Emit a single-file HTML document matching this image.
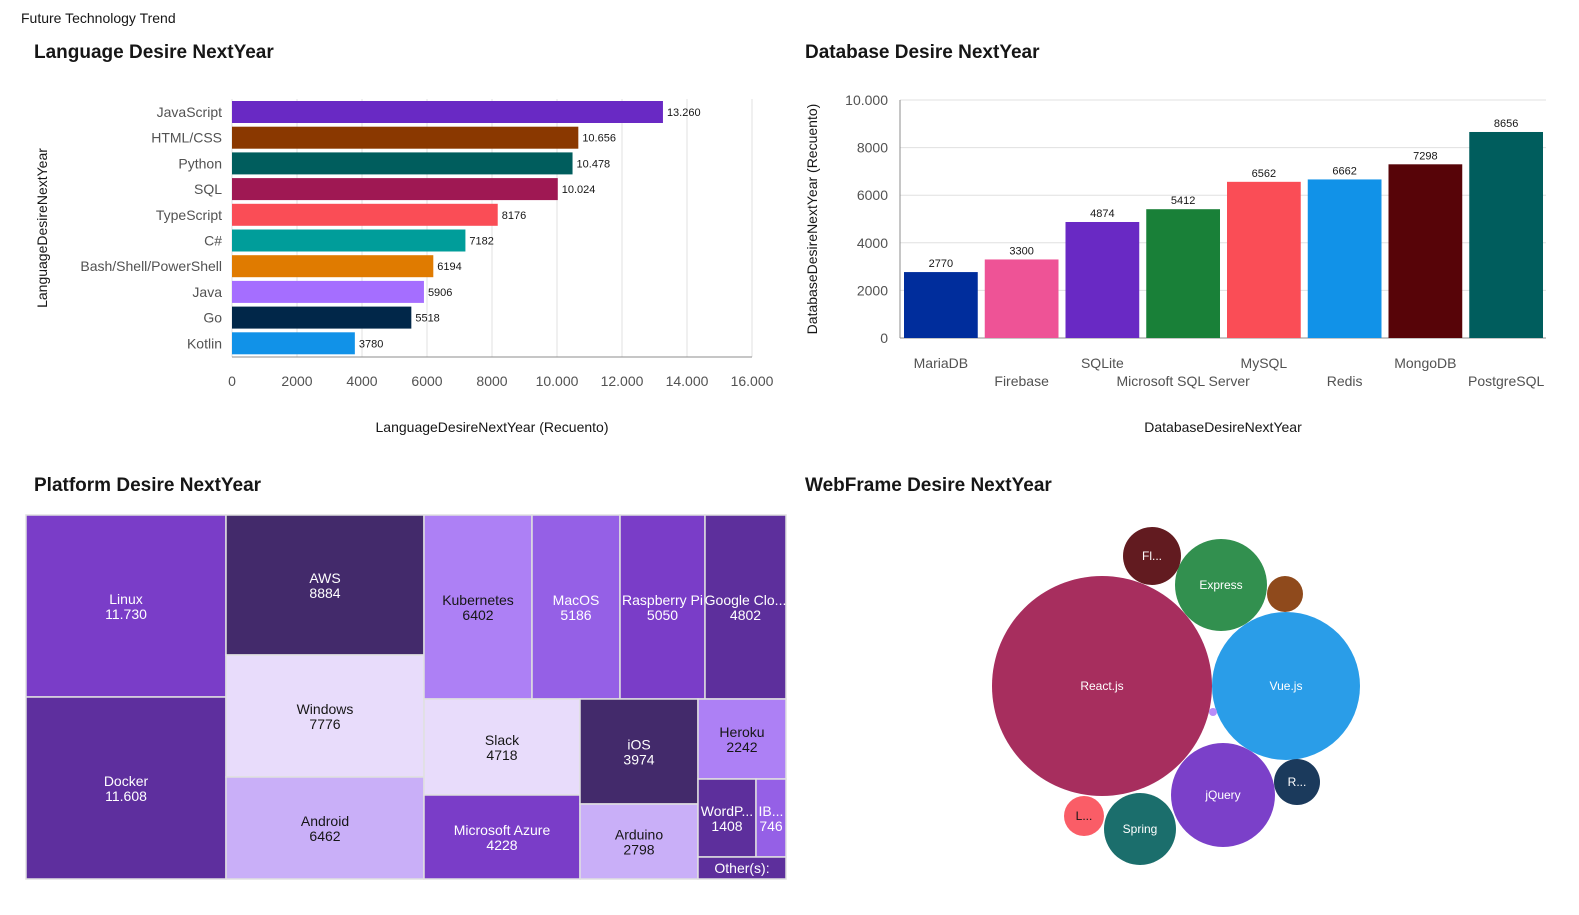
<!DOCTYPE html>
<html><head><meta charset="utf-8"><style>
body{margin:0;width:1579px;height:915px;background:#fff;font-family:"Liberation Sans",sans-serif;overflow:hidden;position:relative}
.t{position:absolute;font-weight:bold;font-size:19px;color:#161616}
svg{position:absolute;left:0;top:0}
</style></head><body>
<div style="position:absolute;left:21px;top:10px;font-size:14px;color:#161616">Future Technology Trend</div>
<div class="t" style="left:34px;top:42px">Language Desire NextYear</div>
<div class="t" style="left:805px;top:42px">Database Desire NextYear</div>
<div class="t" style="left:34px;top:475px">Platform Desire NextYear</div>
<div class="t" style="left:805px;top:475px">WebFrame Desire NextYear</div>
<svg id="s" width="1579" height="915" font-family="Liberation Sans, sans-serif"></svg>
<script>
const langCats=["JavaScript","HTML/CSS","Python","SQL","TypeScript","C#","Bash/Shell/PowerShell","Java","Go","Kotlin"];
const langVals=[13260,10656,10478,10024,8176,7182,6194,5906,5518,3780];
const langLabels=["13.260","10.656","10.478","10.024","8176","7182","6194","5906","5518","3780"];
const langTicks=["0","2000","4000","6000","8000","10.000","12.000","14.000","16.000"];
const dbCats=["MariaDB","Firebase","SQLite","Microsoft SQL Server","MySQL","Redis","MongoDB","PostgreSQL"];
const dbVals=[2770,3300,4874,5412,6562,6662,7298,8656];
const dbTicks=["0","2000","4000","6000","8000","10.000"];
const tmNames=["Linux","Docker","AWS","Windows","Android","Kubernetes","MacOS","Raspberry Pi","Google Clo...","Slack","Microsoft Azure","iOS","Arduino","Heroku","WordP...","IB...","Other(s):"];
const tmVals=["11.730","11.608","8884","7776","6462","6402","5186","5050","4802","4718","4228","3974","2798","2242","1408","746",""];
const bubNames=["React.js","Vue.js","Express","Fl...","","jQuery","R...","Spring","L...",""];
const bubVals=[12100,5476,2116,841,324,2704,529,1296,400,16];
const S=document.getElementById('s');const NS="http://www.w3.org/2000/svg";
function el(t,a,txt){const e=document.createElementNS(NS,t);for(const k in a)e.setAttribute(k,a[k]);if(txt!==undefined)e.textContent=txt;S.appendChild(e);return e;}
// language chart
const lx=v=>232+v*(520/16000);const ly=i=>112+i*25.7;
const langCol=["#6929c4","#8a3800","#005d5d","#9f1853","#fa4d56","#009d9a","#e07b00","#a56eff","#012749","#1192e8"];
langTicks.forEach((t,i)=>{const x=lx(i*2000);
let g=el('line',{x1:x,x2:x,y1:99,y2:357,stroke:"#e0e0e0"});
let tl=el('text',{x:x,y:386,'text-anchor':'middle','font-size':14,fill:'#525252'},t);});
let ax=el('line',{x1:232,x2:752,y1:357,y2:357,stroke:"#8d8d8d"});
langCats.forEach((c,i)=>{const y=ly(i);
let b=el('rect',{x:232,y:y-11,width:lx(langVals[i])-232,height:22,fill:langCol[i]});
let l=el('text',{x:222,y:y+5,'text-anchor':'end','font-size':14,fill:'#525252'},c);
let v=el('text',{x:lx(langVals[i])+4,y:y+4,'font-size':11,fill:'#161616'},langLabels[i]);});
let xt=el('text',{x:492,y:432,'text-anchor':'middle','font-size':14,fill:'#161616'},"LanguageDesireNextYear (Recuento)");
let yt=el('text',{x:47,y:228,'text-anchor':'middle','font-size':14,fill:'#161616',transform:'rotate(-90 47 228)'},"LanguageDesireNextYear");
// database chart
const dy=v=>338-v*(238/10000);const bw=646/8;const dx=i=>900+i*bw;
const dbCol=["#002d9c","#ee5396","#6929c4","#198038","#fa4d56","#1192e8","#570408","#005d5d"];
dbTicks.forEach((t,i)=>{const y=dy(i*2000);
let g=el('line',{x1:900,x2:1546,y1:y,y2:y,stroke:i?"#e0e0e0":"#8d8d8d"});
let tl=el('text',{x:888,y:y+5,'text-anchor':'end','font-size':14,fill:'#525252'},t);});
let dax=el('line',{x1:900,x2:900,y1:100,y2:338,stroke:"#8d8d8d"});
dbCats.forEach((c,i)=>{const x=dx(i)+4,w=bw-7;
let b=el('rect',{x:x,y:dy(dbVals[i]),width:w,height:338-dy(dbVals[i]),fill:dbCol[i]});
let v=el('text',{x:x+w/2,y:dy(dbVals[i])-5,'text-anchor':'middle','font-size':11,fill:'#161616'},String(dbVals[i]));
let l=el('text',{x:x+w/2,y:i%2?386:368,'text-anchor':'middle','font-size':14,fill:'#525252'},c);});
let dxt=el('text',{x:1223,y:432,'text-anchor':'middle','font-size':14,fill:'#161616'},"DatabaseDesireNextYear");
let dyt=el('text',{x:817,y:219,'text-anchor':'middle','font-size':14,fill:'#161616',transform:'rotate(-90 817 219)'},"DatabaseDesireNextYear (Recuento)");
// treemap (layout rectangles)
const tmRect=[[26,515,226,697],[26,697,226,879],[226,515,424,655],[226,655,424,777],[226,777,424,879],[424,515,532,699],[532,515,620,699],[620,515,705,699],[705,515,786,699],[424,699,580,795],[424,795,580,879],[580,699,698,804],[580,804,698,879],[698,699,786,779],[698,779,756,857],[756,779,786,857],[698,857,786,879]];
const tmCol=["#7a3dc8","#5e2f9e","#432a6b","#e8dcfb","#c9aff8","#ad80f5","#9560e6","#7a3dc8","#5d2f9c","#e8dcfb","#7a3dc8","#432a6b","#c9aff8","#ad80f5","#5d2f9c","#9560e6","#5d2f9c"];
const light=new Set([3,4,5,9,12,13]);
tmNames.forEach((n,i)=>{const r=tmRect[i];
let b=el('rect',{x:r[0],y:r[1],width:r[2]-r[0],height:r[3]-r[1],fill:tmCol[i],stroke:"#e0e0e0",'stroke-width':1.5});
const cx=(r[0]+r[2])/2,cy=(r[1]+r[3])/2,f=light.has(i)?'#161616':'#fff';
if(i===16){let t=el('text',{x:cx,y:cy+5,'text-anchor':'middle','font-size':14,fill:f},n);return;}
let t=el('text',{x:cx,y:cy-2,'text-anchor':'middle','font-size':14,fill:f},n);
let v=el('text',{x:cx,y:cy+13,'text-anchor':'middle','font-size':14,fill:f},tmVals[i]);});
// bubble chart (centers are layout)
const bubPos=[[1102,686],[1286,686],[1221,585],[1152,556],[1285,594],[1223,795],[1297,782],[1140,829],[1084,816],[1213,712]];
const bubCol=["#a72e5e","#2a9de8","#32904f","#621b20","#8f4a1c","#7b40c9","#1b3a5c","#1b6e6c","#fa5d67","#b98cf8"];
bubVals.forEach((v,i)=>{const r=Math.sqrt(v);
let c=el('circle',{cx:bubPos[i][0],cy:bubPos[i][1],r:r,fill:bubCol[i]});
if(bubNames[i]){let t=el('text',{x:bubPos[i][0],y:bubPos[i][1]+4,'text-anchor':'middle','font-size':12,fill:i===8?'#161616':'#fff'},bubNames[i]);}});
</script>
</body></html>
